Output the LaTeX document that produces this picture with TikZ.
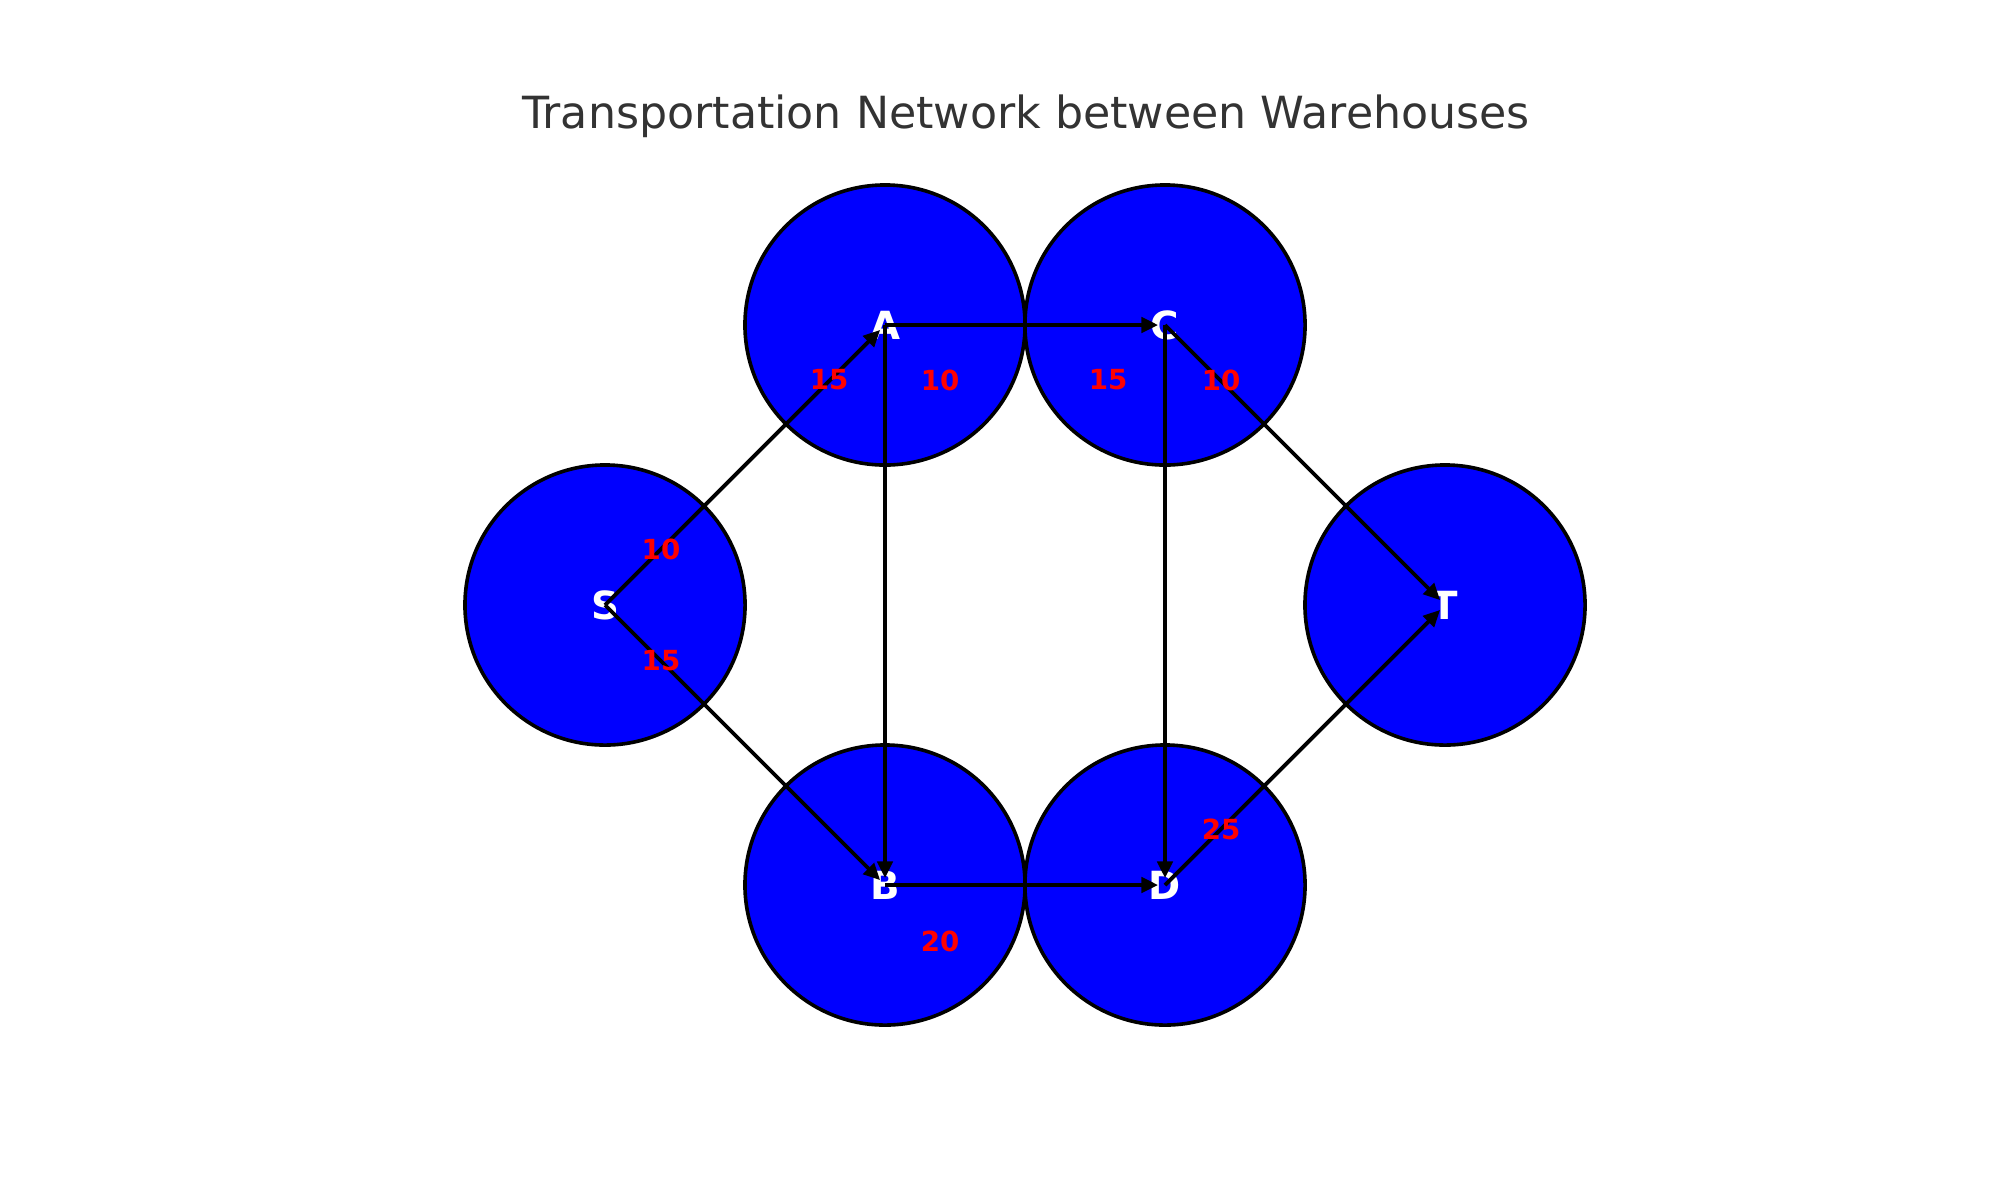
\documentclass[tikz,border=0pt]{standalone}
\usepackage{fontspec}
\setmainfont{DejaVu Sans}
\usetikzlibrary{arrows.meta}
\definecolor{titlegray}{HTML}{333333}
\begin{document}
\begin{tikzpicture}[x=0.0127cm, y=-0.0127cm, >={Triangle[length=6pt, width=5.5pt]},
  house/.style={circle, draw=black, line width=1.3pt, fill=blue, minimum size=3.556cm,
    inner sep=0pt, text=white, font=\bfseries\fontsize{14}{16}\selectfont},
  route/.style={->, line width=1.4pt, shorten >=2.5pt},
  cost/.style={text=red, inner sep=0pt, font=\bfseries\fontsize{10}{12}\selectfont}]
\useasboundingbox (0,0) rectangle (2000,1200);
\node[text=titlegray, anchor=base, font=\fontsize{16}{19}\selectfont] (title) at (1026,128) {Transportation Network between Warehouses};
\node[house] (S) at (605,605) {S};
\node[house] (A) at (885,325) {A};
\node[house] (C) at (1165,325) {C};
\node[house] (T) at (1445,605) {T};
\node[house] (B) at (885,885) {B};
\node[house] (D) at (1165,885) {D};
\foreach \u/\v in {S/A,S/B,A/C,A/B,C/D,C/T,B/D,D/T}
{
   \draw[route](\u.center)--(\v.center);
}
\node[cost] (cSA) at (661,549) {10};
\node[cost] (cSB) at (661,661) {15};
\node[cost] (cAB) at (829,380) {15};
\node[cost] (cAC) at (940,380) {10};
\node[cost] (cCD) at (1108,380) {15};
\node[cost] (cCT) at (1221,380) {10};
\node[cost] (cDT) at (1221,829) {25};
\node[cost] (cBD) at (940,941) {20};
\end{tikzpicture}
\end{document}
